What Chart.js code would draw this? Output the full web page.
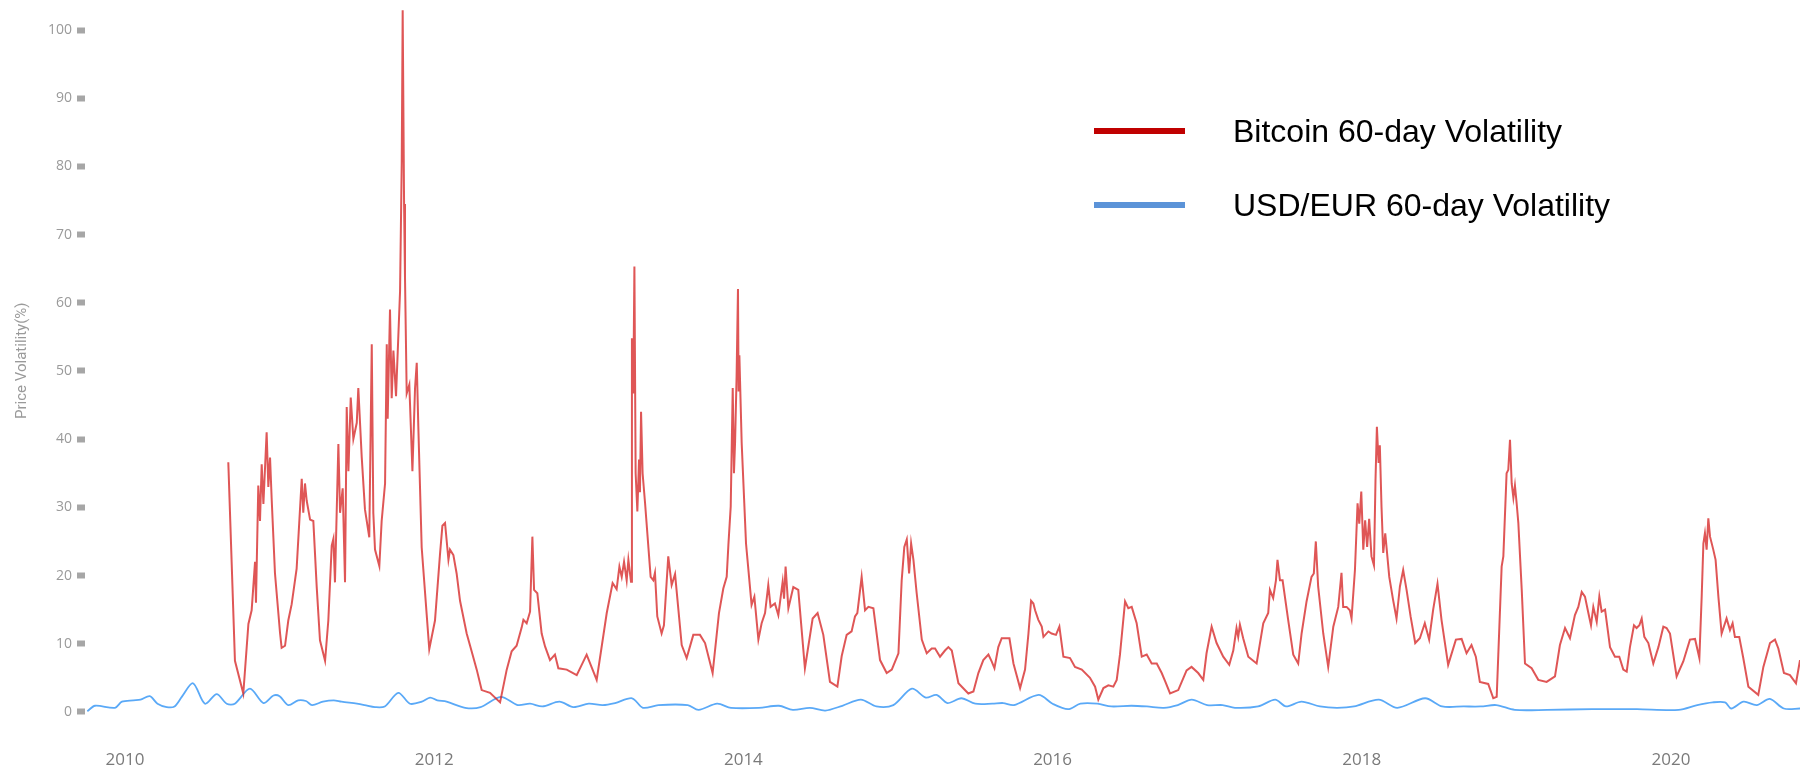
<!DOCTYPE html>
<html>
<head>
<meta charset="utf-8">
<script src="https://cdn.jsdelivr.net/npm/chart.js@4.4.1/dist/chart.umd.min.js"></script>
<style>
  html, body { margin: 0; padding: 0; background: #ffffff; }
  #wrap { position: relative; width: 1800px; height: 771px; }
  .legend-item { position: absolute; left: 1094px; height: 40px; display: flex; align-items: center;
                 font-family: "Liberation Sans", Arial, sans-serif; font-size: 32px; color: #000; }
  .legend-item .swatch { width: 91px; height: 6px; margin-right: 48px; }
</style>
</head>
<body>
<div id="wrap">
  <canvas id="vol-chart"></canvas>
  <div class="legend-item" style="top:111px"><span class="swatch" style="background:#c00000"></span>Bitcoin 60-day Volatility</div>
  <div class="legend-item" style="top:185px"><span class="swatch" style="background:#5b93d8"></span>USD/EUR 60-day Volatility</div>
</div>
<script>
// ===================================
// DATA
// ===================================

// Bitcoin 60-day volatility (%), dates as decimal years
const btcYears = [
    2010.668, 2010.711, 2010.765, 2010.798, 2010.819, 2010.841, 2010.847, 2010.862, 2010.873, 2010.884,
    2010.895, 2010.916, 2010.927, 2010.938, 2010.949, 2010.970, 2011.003, 2011.013, 2011.035, 2011.056,
    2011.078, 2011.110, 2011.143, 2011.153, 2011.164, 2011.175, 2011.197, 2011.218, 2011.240, 2011.261,
    2011.294, 2011.315, 2011.337, 2011.348, 2011.358, 2011.380, 2011.391, 2011.408, 2011.423, 2011.434,
    2011.445, 2011.460, 2011.477, 2011.499, 2011.509, 2011.531, 2011.552, 2011.580, 2011.596, 2011.606,
    2011.617, 2011.645, 2011.660, 2011.682, 2011.693, 2011.699, 2011.714, 2011.725, 2011.736, 2011.753,
    2011.779, 2011.790, 2011.796, 2011.805, 2011.811, 2011.822, 2011.839, 2011.859, 2011.876, 2011.887,
    2011.897, 2011.919, 2011.968, 2012.005, 2012.037, 2012.053, 2012.070, 2012.092, 2012.102, 2012.124,
    2012.145, 2012.167, 2012.210, 2012.242, 2012.275, 2012.307, 2012.361, 2012.426, 2012.469, 2012.501,
    2012.533, 2012.566, 2012.577, 2012.598, 2012.620, 2012.635, 2012.646, 2012.667, 2012.695, 2012.717,
    2012.749, 2012.781, 2012.803, 2012.857, 2012.922, 2012.986, 2013.051, 2013.116, 2013.154, 2013.180,
    2013.198, 2013.213, 2013.228, 2013.245, 2013.256, 2013.273, 2013.279, 2013.288, 2013.295, 2013.303,
    2013.314, 2013.325, 2013.331, 2013.338, 2013.348, 2013.364, 2013.400, 2013.417, 2013.428, 2013.443,
    2013.471, 2013.486, 2013.514, 2013.536, 2013.558, 2013.601, 2013.633, 2013.676, 2013.719, 2013.752,
    2013.801, 2013.842, 2013.870, 2013.892, 2013.903, 2013.918, 2013.931, 2013.939, 2013.946, 2013.956,
    2013.965, 2013.969, 2013.974, 2013.989, 2014.017, 2014.053, 2014.071, 2014.097, 2014.118, 2014.140,
    2014.161, 2014.176, 2014.204, 2014.226, 2014.254, 2014.263, 2014.273, 2014.291, 2014.323, 2014.355,
    2014.398, 2014.448, 2014.480, 2014.517, 2014.560, 2014.608, 2014.636, 2014.668, 2014.700, 2014.722,
    2014.737, 2014.765, 2014.787, 2014.809, 2014.841, 2014.884, 2014.927, 2014.960, 2015.003, 2015.024,
    2015.041, 2015.057, 2015.072, 2015.085, 2015.100, 2015.121, 2015.154, 2015.186, 2015.218, 2015.240,
    2015.272, 2015.304, 2015.326, 2015.348, 2015.391, 2015.455, 2015.488, 2015.520, 2015.552, 2015.585,
    2015.606, 2015.624, 2015.649, 2015.671, 2015.721, 2015.747, 2015.790, 2015.822, 2015.844, 2015.861,
    2015.876, 2015.887, 2015.908, 2015.930, 2015.941, 2015.973, 2015.994, 2016.022, 2016.044, 2016.070,
    2016.113, 2016.145, 2016.189, 2016.242, 2016.275, 2016.296, 2016.329, 2016.361, 2016.393, 2016.415,
    2016.436, 2016.469, 2016.490, 2016.512, 2016.544, 2016.577, 2016.609, 2016.641, 2016.674, 2016.706,
    2016.728, 2016.760, 2016.813, 2016.867, 2016.899, 2016.942, 2016.975, 2016.996, 2017.029, 2017.061,
    2017.104, 2017.143, 2017.169, 2017.190, 2017.201, 2017.212, 2017.233, 2017.266, 2017.320, 2017.363,
    2017.395, 2017.406, 2017.427, 2017.445, 2017.455, 2017.471, 2017.488, 2017.524, 2017.557, 2017.589,
    2017.611, 2017.643, 2017.675, 2017.690, 2017.703, 2017.718, 2017.751, 2017.783, 2017.816, 2017.848,
    2017.869, 2017.880, 2017.902, 2017.923, 2017.934, 2017.956, 2017.973, 2017.984, 2017.997, 2018.010,
    2018.022, 2018.035, 2018.048, 2018.063, 2018.079, 2018.089, 2018.098, 2018.109, 2018.117, 2018.128,
    2018.139, 2018.152, 2018.178, 2018.203, 2018.225, 2018.247, 2018.268, 2018.290, 2018.316, 2018.346,
    2018.376, 2018.408, 2018.436, 2018.462, 2018.490, 2018.516, 2018.559, 2018.609, 2018.646, 2018.678,
    2018.710, 2018.738, 2018.764, 2018.818, 2018.851, 2018.873, 2018.905, 2018.916, 2018.937, 2018.948,
    2018.959, 2018.970, 2018.981, 2018.991, 2019.002, 2019.013, 2019.035, 2019.056, 2019.099, 2019.142,
    2019.196, 2019.250, 2019.282, 2019.315, 2019.347, 2019.379, 2019.401, 2019.423, 2019.444, 2019.466,
    2019.483, 2019.498, 2019.520, 2019.537, 2019.552, 2019.574, 2019.606, 2019.638, 2019.666, 2019.692,
    2019.714, 2019.735, 2019.761, 2019.778, 2019.796, 2019.811, 2019.828, 2019.854, 2019.886, 2019.919,
    2019.951, 2019.972, 2019.994, 2020.037, 2020.080, 2020.123, 2020.156, 2020.184, 2020.199, 2020.210,
    2020.220, 2020.231, 2020.242, 2020.253, 2020.274, 2020.289, 2020.307, 2020.328, 2020.360, 2020.382,
    2020.399, 2020.414, 2020.442, 2020.468, 2020.501, 2020.565, 2020.598, 2020.641, 2020.673, 2020.695,
    2020.731, 2020.770, 2020.809, 2020.835
];
const btcValues = [
    36.6, 7.5, 2.7, 12.9, 14.9, 22.0, 16.0, 33.2, 28.0, 36.3,
    30.5, 41.0, 33.0, 37.3, 31.0, 20.3, 11.5, 9.4, 9.7, 13.4,
    15.8, 21.0, 34.2, 29.2, 33.5, 31.0, 28.2, 28.0, 18.3, 10.5,
    7.5, 13.4, 24.4, 25.4, 19.0, 39.3, 29.2, 32.8, 19.0, 44.7,
    35.3, 46.1, 40.0, 42.4, 47.5, 37.4, 29.7, 25.6, 53.9, 29.2,
    23.8, 21.4, 28.0, 33.5, 53.9, 43.0, 59.0, 46.0, 53.0, 46.3,
    61.7, 80.7, 102.9, 74.5, 63.7, 46.7, 48.0, 35.3, 47.5, 51.2,
    42.0, 24.1, 9.2, 13.4, 23.0, 27.3, 27.7, 22.3, 23.8, 23.0,
    20.3, 16.3, 11.5, 8.9, 6.2, 3.2, 2.8, 1.4, 6.2, 8.9,
    9.7, 12.4, 13.5, 13.0, 14.7, 25.7, 17.9, 17.4, 11.5, 9.6,
    7.6, 8.4, 6.4, 6.2, 5.4, 8.4, 4.7, 14.5, 18.9, 18.0,
    21.3, 19.8, 22.0, 19.3, 22.3, 19.1, 54.8, 46.7, 65.3, 35.0,
    29.4, 37.0, 32.2, 44.0, 35.0, 30.6, 19.8, 19.3, 20.4, 14.0,
    11.5, 12.7, 22.8, 18.6, 20.2, 9.8, 7.9, 11.3, 11.3, 10.1,
    5.7, 14.5, 18.1, 19.8, 24.5, 30.1, 47.5, 35.0, 39.4, 49.2,
    62.0, 47.0, 52.3, 39.4, 24.7, 15.7, 16.9, 10.6, 13.0, 14.5,
    18.6, 15.4, 15.9, 14.2, 19.1, 16.6, 21.3, 15.2, 18.3, 17.9,
    6.4, 13.7, 14.5, 11.3, 4.4, 3.7, 8.2, 11.3, 11.8, 14.0,
    14.5, 19.8, 14.9, 15.4, 15.2, 7.6, 5.7, 6.2, 8.6, 19.3,
    24.2, 25.3, 20.3, 24.7, 22.3, 17.4, 10.6, 8.6, 9.3, 9.3,
    8.1, 9.0, 9.5, 9.0, 4.2, 2.7, 3.0, 5.7, 7.6, 8.4,
    7.4, 6.4, 9.5, 10.8, 10.8, 7.1, 3.5, 6.2, 11.5, 16.3,
    15.9, 14.9, 13.5, 12.5, 11.0, 11.8, 11.5, 11.3, 12.5, 8.1,
    7.9, 6.6, 6.2, 5.0, 3.7, 1.8, 3.5, 3.9, 3.7, 4.7,
    8.4, 16.2, 15.2, 15.4, 13.0, 8.1, 8.4, 7.1, 7.1, 5.7,
    4.5, 2.7, 3.2, 6.1, 6.6, 5.7, 4.7, 8.6, 12.5, 10.1,
    8.1, 6.9, 9.0, 12.3, 11.0, 12.8, 10.8, 8.1, 7.1, 13.0,
    14.5, 17.9, 16.7, 19.3, 22.3, 19.3, 19.3, 13.5, 8.4, 7.1,
    11.5, 16.2, 19.8, 20.3, 25.0, 18.4, 11.5, 6.6, 12.5, 15.4,
    20.4, 15.4, 15.4, 14.9, 13.7, 20.8, 30.6, 27.6, 32.3, 23.8,
    28.1, 24.2, 28.3, 22.8, 21.5, 34.0, 41.8, 36.5, 39.1, 30.0,
    23.3, 26.2, 19.8, 16.4, 13.7, 18.4, 20.8, 17.9, 14.0, 10.1,
    10.8, 13.0, 10.6, 15.0, 18.8, 13.5, 6.9, 10.6, 10.7, 8.6,
    9.8, 8.1, 4.4, 4.1, 2.0, 2.2, 21.3, 22.8, 35.0, 35.5,
    39.9, 33.5, 31.4, 33.2, 30.6, 27.7, 17.9, 7.1, 6.4, 4.7,
    4.4, 5.2, 9.8, 12.3, 10.8, 14.2, 15.4, 17.6, 16.9, 14.5,
    12.7, 15.4, 13.2, 16.9, 14.7, 15.0, 9.5, 8.1, 8.1, 6.2,
    5.9, 9.5, 12.7, 12.3, 12.7, 13.7, 11.0, 10.1, 7.1, 9.5,
    12.5, 12.3, 11.5, 5.2, 7.4, 10.6, 10.7, 7.9, 16.9, 24.7,
    26.2, 23.8, 28.4, 25.7, 23.8, 22.3, 16.9, 11.5, 13.7, 12.0,
    13.0, 11.0, 11.0, 7.9, 3.7, 2.5, 6.6, 10.1, 10.6, 9.3,
    5.7, 5.4, 4.2, 7.6
];

// USD/EUR 60-day volatility (%)
const fxYears = [
    2009.756, 2009.806, 2009.935, 2009.980, 2010.054, 2010.100, 2010.160, 2010.210, 2010.270, 2010.320,
    2010.367, 2010.440, 2010.517, 2010.593, 2010.658, 2010.710, 2010.808, 2010.895, 2010.960, 2011.000,
    2011.056, 2011.120, 2011.170, 2011.210, 2011.280, 2011.350, 2011.400, 2011.500, 2011.550, 2011.617,
    2011.680, 2011.768, 2011.843, 2011.920, 2011.973, 2012.020, 2012.080, 2012.200, 2012.300, 2012.430,
    2012.540, 2012.620, 2012.700, 2012.810, 2012.900, 2013.000, 2013.090, 2013.170, 2013.280, 2013.350,
    2013.450, 2013.640, 2013.710, 2013.830, 2013.920, 2014.100, 2014.230, 2014.320, 2014.430, 2014.530,
    2014.640, 2014.760, 2014.860, 2014.970, 2015.090, 2015.180, 2015.250, 2015.320, 2015.410, 2015.500,
    2015.610, 2015.680, 2015.750, 2015.910, 2016.000, 2016.100, 2016.180, 2016.290, 2016.380, 2016.510,
    2016.610, 2016.720, 2016.810, 2016.900, 2017.000, 2017.100, 2017.180, 2017.330, 2017.440, 2017.510,
    2017.610, 2017.730, 2017.840, 2017.950, 2018.110, 2018.230, 2018.410, 2018.520, 2018.660, 2018.770,
    2018.870, 2018.990, 2019.200, 2019.490, 2019.780, 2020.050, 2020.170, 2020.270, 2020.350, 2020.390,
    2020.470, 2020.555, 2020.640, 2020.730, 2020.835
];
const fxValues = [
    0.1, 0.9, 0.6, 1.5, 1.7, 1.8, 2.3, 1.2, 0.7, 0.8,
    2.2, 4.2, 1.2, 2.6, 1.2, 1.2, 3.4, 1.3, 2.4, 2.3,
    1.0, 1.7, 1.6, 1.0, 1.5, 1.7, 1.5, 1.2, 1.0, 0.7,
    0.8, 2.8, 1.2, 1.5, 2.1, 1.7, 1.5, 0.6, 0.7, 2.2,
    1.0, 1.2, 0.8, 1.5, 0.7, 1.2, 1.0, 1.3, 2.0, 0.6,
    1.0, 1.0, 0.3, 1.2, 0.6, 0.6, 0.9, 0.3, 0.6, 0.2,
    0.9, 1.8, 0.8, 1.0, 3.4, 2.1, 2.5, 1.3, 2.0, 1.2,
    1.2, 1.3, 1.0, 2.5, 1.2, 0.4, 1.2, 1.2, 0.8, 0.9,
    0.8, 0.6, 1.0, 1.8, 1.0, 1.0, 0.6, 0.8, 1.8, 0.8,
    1.5, 0.8, 0.6, 0.8, 1.8, 0.6, 2.0, 0.8, 0.8, 0.8,
    1.0, 0.3, 0.3, 0.4, 0.4, 0.3, 1.0, 1.4, 1.4, 0.5,
    1.5, 1.0, 1.9, 0.5, 0.5
];

const yearTicks = [2010, 2012, 2014, 2016, 2018, 2020];
const valueTicks = [0, 10, 20, 30, 40, 50, 60, 70, 80, 90, 100];
const yTitle = 'Price Volatility(%)';

// ===================================
// CHART
// ===================================

const toPoints = (xs, ys) => xs.map((x, i) => ({ x: x, y: ys[i] }));

// y-axis title, drawn a little above the axis middle like the original
const yTitlePlugin = {
    id: 'yTitle',
    afterDraw(chart) {
        const c = chart.ctx;
        const y = chart.scales.y.getPixelForValue(51.5);
        c.save();
        c.translate(22, y);
        c.rotate(-Math.PI / 2);
        c.font = '15px "Liberation Sans Narrow", Roboto, sans-serif';
        c.fillStyle = '#9a9a9a';
        c.textAlign = 'center';
        c.textBaseline = 'middle';
        c.fillText(yTitle, 0, 0);
        c.restore();
    }
};

const ctx = document.getElementById('vol-chart');

new Chart(ctx, {
    type: 'line',
    data: {
        datasets: [
            {
                label: 'Bitcoin 60-day Volatility',
                data: toPoints(btcYears, btcValues),
                borderColor: 'rgba(214, 38, 38, 0.78)',
                borderWidth: 2,
                pointRadius: 0,
                tension: 0
            },
            {
                label: 'USD/EUR 60-day Volatility',
                data: toPoints(fxYears, fxValues),
                borderColor: '#5aa9f7',
                borderWidth: 1.8,
                pointRadius: 0,
                tension: 0.3
            }
        ]
    },
    plugins: [yTitlePlugin],
    options: {
        responsive: true,
        maintainAspectRatio: false,
        animation: false,
        layout: { padding: 0 },
        plugins: {
            legend: { display: false },
            tooltip: { enabled: false }
        },
        scales: {
            x: {
                type: 'linear',
                min: 2009.741,
                max: 2020.835,
                afterFit: (scale) => {
                    scale.height = 25;
                    scale.paddingLeft = 0;
                    scale.paddingRight = 0;
                },
                afterBuildTicks: (scale) => {
                    scale.ticks = yearTicks.map(v => ({ value: v }));
                },
                grid: { display: false, drawTicks: false },
                border: { display: false },
                ticks: {
                    color: '#7a7a7a',
                    padding: 4,
                    font: { family: 'Open Sans', size: 17 },
                    callback: (value) => String(value)
                }
            },
            y: {
                min: -5,
                max: 104.4,
                afterFit: (scale) => {
                    scale.width = 85;
                    scale.paddingTop = 0;
                    scale.paddingBottom = 0;
                },
                afterBuildTicks: (scale) => {
                    scale.ticks = valueTicks.map(v => ({ value: v }));
                },
                grid: {
                    drawOnChartArea: false,
                    drawTicks: true,
                    tickLength: 8,
                    tickWidth: 6,
                    tickColor: '#a6a6a6'
                },
                border: { display: false },
                ticks: {
                    color: '#9a9a9a',
                    padding: 5,
                    font: { family: 'Open Sans', size: 14 }
                }
            }
        }
    }
});
</script>
</body>
</html>
